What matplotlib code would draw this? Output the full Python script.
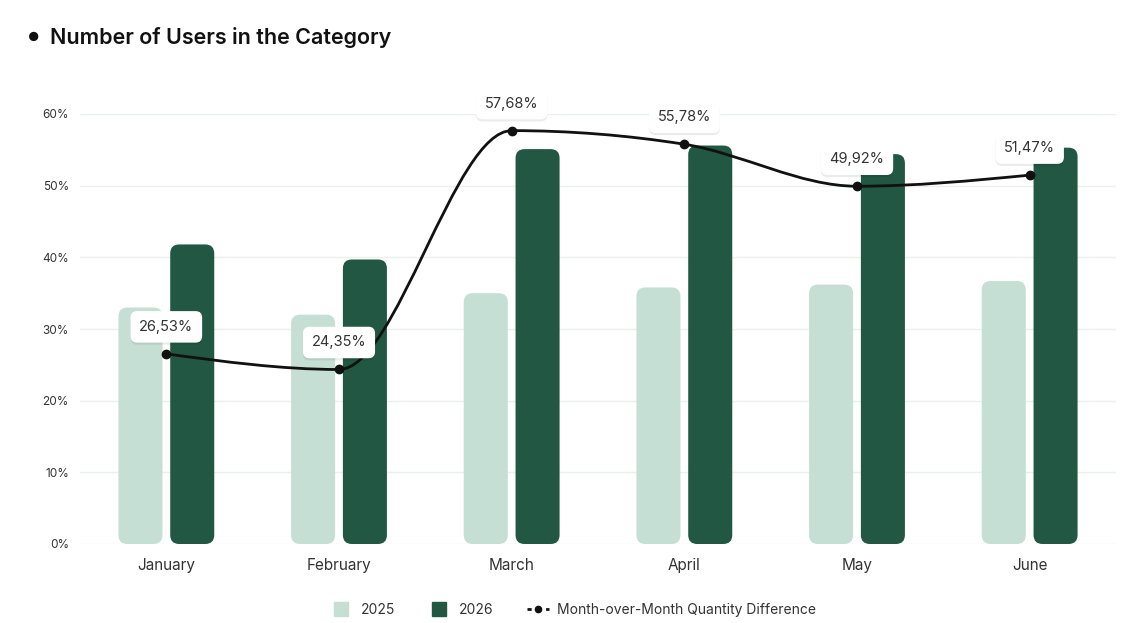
import matplotlib
matplotlib.use("Agg")
import matplotlib.pyplot as plt
import numpy as np
from matplotlib.patches import FancyBboxPatch
from matplotlib.path import Path
from matplotlib.patches import PathPatch
from matplotlib.lines import Line2D
import matplotlib.patheffects as pe

# datos
months = ["January", "February", "March", "April", "May", "June"]
users_2025 = [33.0, 32.0, 35.0, 35.8, 36.2, 36.7]
users_2026 = [41.8, 39.7, 55.1, 55.6, 54.4, 55.3]
mom_diff = [26.53, 24.35, 57.68, 55.78, 49.92, 51.47]
mom_labels = ["26,53%", "24,35%", "57,68%", "55,78%", "49,92%", "51,47%"]
y_ticks = [0, 10, 20, 30, 40, 50, 60]

light = "#c5dfd5"
dark = "#215743"
grid_c = "#e9f1ec"
txt_c = "#333333"

plt.rcParams["font.family"] = ["Inter", "DejaVu Sans"]

fig = plt.figure(figsize=(11.48, 6.23), dpi=100)
ax = fig.add_axes([80 / 1148, 79 / 623, 1036 / 1148, 430 / 623])

x = np.arange(len(months))
ax.set_xlim(-0.5, len(months) - 0.5)
ax.set_ylim(0, 60)

# barras con esquinas redondeadas
bw = 0.255
off = 0.15
aspect = (1036 / 6) / (430 / 60)
rad = 9 / (1036 / 6)
for xs, vals, col in [(x - off, users_2025, light), (x + off, users_2026, dark)]:
    for xi, v in zip(xs, vals):
        p = FancyBboxPatch((xi - bw / 2, 0), bw, v,
                           boxstyle=f"round,pad=0,rounding_size={rad}",
                           mutation_aspect=aspect, fc=col, ec="none", zorder=2)
        ax.add_patch(p)

# curva monotona (d3 monotoneX) con beziers de matplotlib
ys = np.array(mom_diff, dtype=float)
n = len(ys)
s = np.diff(ys)
t = np.zeros(n)
for i in range(1, n - 1):
    s0, s1 = s[i - 1], s[i]
    p = (s0 + s1) / 2
    t[i] = (np.sign(s0) + np.sign(s1)) * min(abs(s0), abs(s1), 0.5 * abs(p))
t[0] = (3 * s[0] - t[1]) / 2
t[-1] = (3 * s[-1] - t[-2]) / 2
verts = [(x[0], ys[0])]
codes = [Path.MOVETO]
for i in range(n - 1):
    verts += [(x[i] + 1 / 3, ys[i] + t[i] / 3),
              (x[i + 1] - 1 / 3, ys[i + 1] - t[i + 1] / 3),
              (x[i + 1], ys[i + 1])]
    codes += [Path.CURVE4] * 3
ax.add_patch(PathPatch(Path(verts, codes), fc="none", ec="#111111", lw=2.0,
                       zorder=3, capstyle="round"))
ax.plot(x, ys, "o", color="#111111", ms=6, zorder=4)

for xi, v, lab in zip(x, ys, mom_labels):
    an = ax.annotate(lab, (xi, v), xytext=(0, 27), textcoords="offset pixels",
                     ha="center", va="center", fontsize=10.5, color=txt_c,
                     zorder=6, annotation_clip=False,
                     bbox=dict(boxstyle="round,pad=0.6,rounding_size=0.45",
                               fc="white", ec="none"))
    an.get_bbox_patch().set_path_effects([
        pe.SimplePatchShadow(offset=(0, -1.5), shadow_rgbFace="#000000", alpha=0.08),
        pe.Normal()])

ax.set_yticks(y_ticks)
ax.set_yticklabels([f"{v}%" for v in y_ticks], fontsize=8.5, color=txt_c)
ax.set_xticks(x)
ax.set_xticklabels(months, fontsize=11, color=txt_c)
for lbl in ax.get_xticklabels():
    lbl.set_va("baseline")
ax.tick_params(axis="both", length=0)
ax.tick_params(axis="y", pad=8)
ax.tick_params(axis="x", pad=19)
ax.grid(axis="y", color=grid_c, lw=1, zorder=0)
ax.set_axisbelow(True)
for sp in ax.spines.values():
    sp.set_visible(False)

# titulo con viñeta
fig.text(28 / 1148, 1 - 38 / 623, "\u25CF", fontsize=9, color="#111111", va="center")
fig.text(50 / 1148, 1 - 38 / 623, "Number of Users in the Category", fontsize=15.5,
         fontweight="semibold", color="#111111", va="center")

handles = [
    Line2D([], [], ls="none", marker="s", ms=10, mfc=light, mec=light),
    Line2D([], [], ls="none", marker="s", ms=10, mfc=dark, mec=dark),
    Line2D([], [], color="#111111", lw=2, ls=(0.5, (2.0, 1.6)), marker="o", ms=4.5),
]
fig.legend(handles, ["2025", "2026", "Month-over-Month Quantity Difference"],
           loc="center", bbox_to_anchor=(573 / 1148, 1 - 610 / 623), ncol=3,
           frameon=False, fontsize=10, handlelength=1.6, handletextpad=0.6,
           columnspacing=2.4, labelcolor=txt_c)

fig.savefig("out.png", dpi=100)
